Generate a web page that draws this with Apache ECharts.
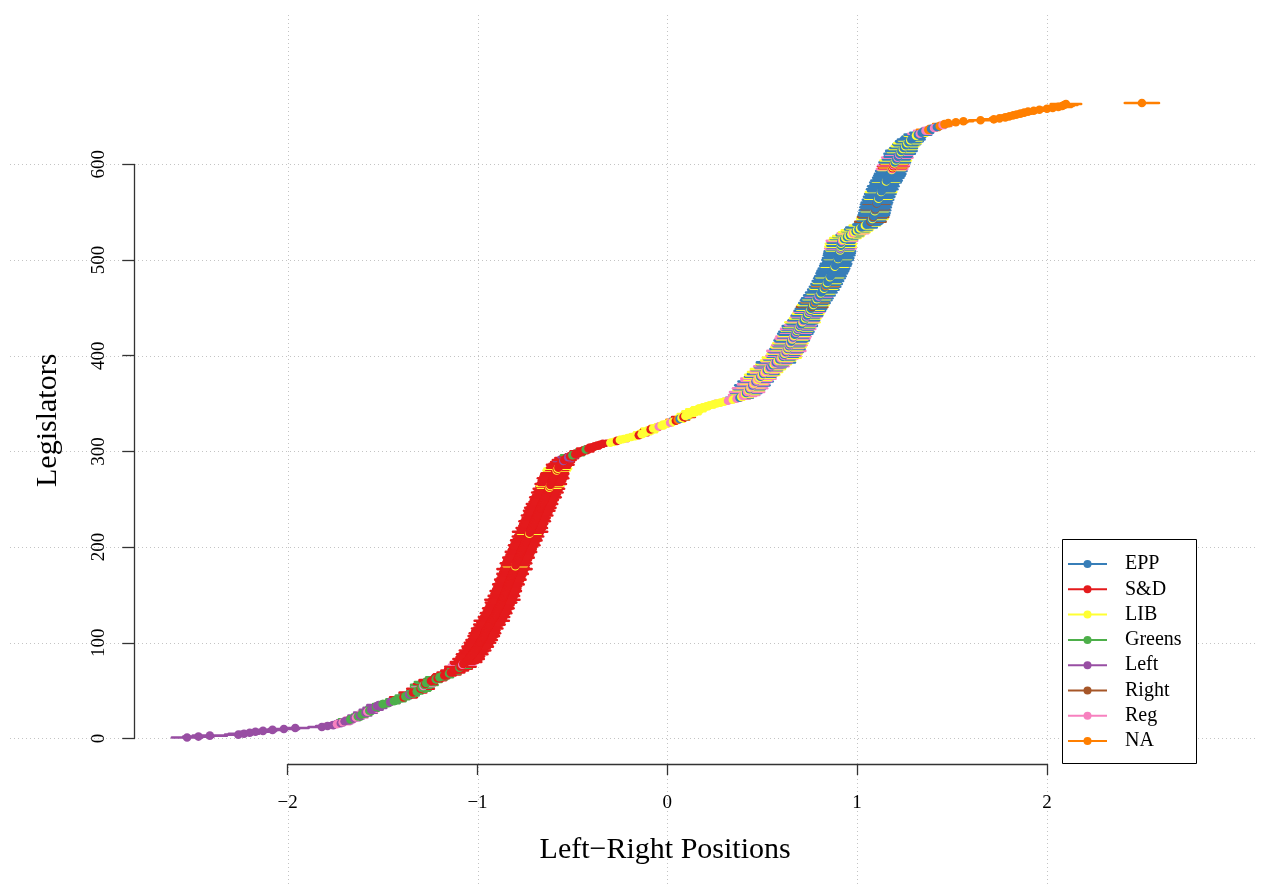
<!DOCTYPE html>
<html>
<head>
<meta charset="utf-8">
<title>Legislators by left-right position</title>
<script src="https://cdn.jsdelivr.net/npm/echarts@6/dist/echarts.min.js"></script>
<style>
  html, body { margin: 0; padding: 0; background: #fff; }
  #main { width: 1261px; height: 885px; }
</style>
</head>
<body>
<div id="main"></div>
<script>
// party groups, legend order
var partyNames = ['EPP', 'S&D', 'LIB', 'Greens', 'Left', 'Right', 'Reg', 'NA'];
var partyColors = ['#377EB8', '#E41A1C', '#FFFF33', '#4DAF4A', '#984EA3', '#A65628', '#F781BF', '#FF7F00'];
var partyKey = 'ESLGFRPN';

// one letter per legislator, in rank order (rows of ten)
var partyByRank = [
  'FFFFFFFFFF', 'FFFFPFPFFG', 'FPGFGGFPGF', 'FFGFFGGFGG', 'GGSGGFGSGG',
  'GSGGPGSGGS', 'SGSGGSSGSS', 'SSSGSSPSSS', 'SSSSSSSSSS', 'SSSSSSSSSS',
  'SSSSSSSS',   'SSSSSSSSSS', 'SSSSSSSSSS', 'SSSSSSSSSS', 'SSSSSSSSSS',
  'SSSSSSSSSS', 'SSSSSSSSSS', 'SSSSSSSSSS', 'SLSSSSSSSS', 'SSSSSSSSSS',
  'SSSSSSSSSS', 'SSSSSLSSSS', 'SSSSSSSSSS', 'SSSSSSSSSS', 'SSSSSSSSSS',
  'SSSSSSSSSS', 'SSSLSLSSSS', 'SSSSSSSSSS', 'SLSLSSSSSS', 'SFSSSFSGSS',
  'SSSGSSSSSS', 'LLSLLLLLSL', 'LLLLSLLPLL', 'LPLSNELSLL', 'LLLLLLLLLL',
  'LLLLPLPELP', 'PLEPPLEPLP', 'EPLPEPLPLE', 'PLEPLPELPE', 'PELPEPLEPL',
  'EPELPEPLEP', 'LEPELPEELP', 'EPLEEPELEP', 'ELEPEELPEE', 'LEPEELEPEL',
  'EERELEENEE', 'LEEPEELEEE', 'ELEENEELEE', 'EEELEEEEEE', 'EEEELEEEEE',
  'EELEEEEEEE', 'ELEPELEELE', 'EPLELELELP', 'LELELEELEE', 'EREELEREEE',
  'EELEREEEEE', 'REEEELEEEE', 'EELEEEEEEE', 'EEELEEEEEE', 'EEEEELPSLS',
  'PSLEELEEPE', 'EPEELEELEE', 'LEELEELEEE', 'ELEPEEPNEP', 'ENPNNNNNNN',
  'NNNNNNNNNN', 'NNNNNN'
].join('');

// estimated ideal points, sorted (rank 1 .. 664)
var idealPoints = [
  -2.53,-2.47,-2.41,-2.26,-2.23,-2.2,-2.17,-2.13,-2.08,-2.02,
  -1.96,-1.82,-1.79,-1.76,-1.74,-1.72,-1.71,-1.7,-1.68,-1.67,
  -1.65,-1.64,-1.63,-1.62,-1.61,-1.6,-1.59,-1.58,-1.57,-1.56,
  -1.55,-1.54,-1.535,-1.53,-1.52,-1.5,-1.47,-1.46,-1.44,-1.43,
  -1.42,-1.4,-1.39,-1.38,-1.37,-1.36,-1.35,-1.34,-1.32,-1.31,
  -1.305,-1.3,-1.295,-1.29,-1.285,-1.28,-1.275,-1.27,-1.26,-1.245,
  -1.235,-1.22,-1.21,-1.2,-1.19,-1.175,-1.16,-1.15,-1.14,-1.13,
  -1.12,-1.11,-1.1,-1.095,-1.09,-1.085,-1.08,-1.075,-1.07,-1.06,
  -1.055,-1.05,-1.047,-1.044,-1.04,-1.036,-1.032,-1.028,-1.024,-1.02,
  -1.017,-1.013,-1.009,-1.006,-1.002,-0.999,-0.996,-0.993,-0.99,-0.987,
  -0.985,-0.982,-0.978,-0.975,-0.972,-0.969,-0.967,-0.965,
  -0.963,-0.961,-0.96,-0.958,-0.955,-0.952,-0.949,-0.946,-0.943,-0.94,
  -0.937,-0.934,-0.931,-0.928,-0.925,-0.922,-0.919,-0.916,-0.913,-0.91,
  -0.907,-0.905,-0.902,-0.9,-0.897,-0.895,-0.892,-0.89,-0.887,-0.885,
  -0.882,-0.88,-0.878,-0.876,-0.873,-0.871,-0.869,-0.867,-0.865,-0.863,
  -0.861,-0.859,-0.857,-0.855,-0.853,-0.851,-0.849,-0.847,-0.845,-0.843,
  -0.841,-0.839,-0.837,-0.835,-0.833,-0.831,-0.829,-0.827,-0.825,-0.823,
  -0.821,-0.819,-0.817,-0.815,-0.813,-0.811,-0.809,-0.807,-0.805,-0.803,
  -0.802,-0.801,-0.8,-0.799,-0.797,-0.795,-0.793,-0.79,-0.788,-0.786,
  -0.784,-0.781,-0.779,-0.777,-0.775,-0.773,-0.771,-0.769,-0.766,-0.763,
  -0.761,-0.759,-0.757,-0.754,-0.752,-0.75,-0.747,-0.745,-0.743,-0.741,
  -0.738,-0.736,-0.734,-0.732,-0.729,-0.727,-0.725,-0.723,-0.72,-0.718,
  -0.716,-0.714,-0.712,-0.71,-0.707,-0.705,-0.703,-0.701,-0.699,-0.697,
  -0.694,-0.692,-0.69,-0.688,-0.686,-0.684,-0.682,-0.68,-0.677,-0.675,
  -0.673,-0.671,-0.669,-0.667,-0.665,-0.663,-0.66,-0.658,-0.656,-0.652,
  -0.649,-0.647,-0.644,-0.642,-0.64,-0.638,-0.636,-0.634,-0.632,-0.63,
  -0.628,-0.626,-0.624,-0.622,-0.62,-0.618,-0.616,-0.614,-0.612,-0.61,
  -0.608,-0.606,-0.604,-0.602,-0.6,-0.598,-0.596,-0.594,-0.592,-0.589,
  -0.586,-0.583,-0.58,-0.577,-0.574,-0.571,-0.568,-0.564,-0.56,-0.556,
  -0.552,-0.548,-0.543,-0.537,-0.53,-0.522,-0.512,-0.5,-0.485,-0.47,
  -0.46,-0.45,-0.44,-0.43,-0.415,-0.4,-0.385,-0.37,-0.355,-0.34,
  -0.3,-0.28,-0.265,-0.25,-0.23,-0.21,-0.19,-0.17,-0.15,-0.135,
  -0.125,-0.115,-0.105,-0.095,-0.088,-0.075,-0.06,-0.045,-0.03,-0.015,
  0.0,0.015,0.03,0.045,0.055,0.065,0.075,0.085,0.095,0.105,
  0.115,0.125,0.132,0.14,0.15,0.16,0.175,0.19,0.205,0.22,
  0.24,0.26,0.28,0.3,0.32,0.345,0.365,0.38,0.39,0.398,
  0.405,0.41,0.415,0.42,0.424,0.428,0.432,0.436,0.44,0.444,
  0.448,0.452,0.456,0.46,0.465,0.47,0.475,0.48,0.485,0.49,
  0.495,0.5,0.505,0.51,0.515,0.52,0.525,0.53,0.536,0.542,
  0.548,0.554,0.56,0.566,0.572,0.578,0.584,0.59,0.596,0.603,
  0.608,0.612,0.615,0.618,0.621,0.624,0.627,0.63,0.633,0.635,
  0.638,0.64,0.643,0.645,0.648,0.65,0.653,0.655,0.658,0.66,
  0.663,0.665,0.668,0.671,0.674,0.677,0.68,0.683,0.686,0.689,
  0.692,0.695,0.698,0.702,0.705,0.709,0.712,0.716,0.719,0.723,
  0.726,0.73,0.733,0.736,0.739,0.742,0.745,0.748,0.751,0.754,
  0.757,0.76,0.763,0.766,0.769,0.772,0.775,0.778,0.781,0.784,
  0.787,0.79,0.794,0.797,0.801,0.804,0.808,0.811,0.815,0.818,
  0.822,0.825,0.828,0.831,0.834,0.836,0.839,0.841,0.844,0.846,
  0.849,0.851,0.854,0.856,0.859,0.861,0.864,0.866,0.868,0.871,
  0.873,0.875,0.878,0.88,0.882,0.885,0.887,0.889,0.891,0.893,
  0.895,0.897,0.899,0.9,0.902,0.903,0.905,0.906,0.907,0.908,
  0.909,0.91,0.911,0.912,0.913,0.913,0.914,0.914,0.915,0.915,
  0.917,0.92,0.925,0.931,0.938,0.946,0.954,0.962,0.97,0.978,
  0.985,0.992,0.999,1.007,1.015,1.023,1.032,1.041,1.05,1.058,
  1.064,1.07,1.074,1.078,1.08,1.082,1.084,1.086,1.088,1.09,
  1.091,1.092,1.093,1.094,1.095,1.096,1.097,1.098,1.099,1.1,
  1.102,1.104,1.106,1.108,1.11,1.112,1.114,1.116,1.118,1.12,
  1.122,1.124,1.126,1.128,1.13,1.132,1.134,1.136,1.138,1.14,
  1.143,1.146,1.149,1.152,1.155,1.158,1.161,1.164,1.167,1.17,
  1.172,1.174,1.176,1.178,1.18,1.182,1.184,1.186,1.188,1.19,
  1.192,1.194,1.196,1.198,1.2,1.203,1.206,1.209,1.212,1.215,
  1.218,1.221,1.224,1.227,1.23,1.233,1.237,1.241,1.245,1.249,
  1.253,1.257,1.261,1.265,1.27,1.275,1.28,1.285,1.29,1.295,
  1.3,1.31,1.32,1.33,1.34,1.35,1.36,1.375,1.39,1.405,
  1.42,1.435,1.45,1.46,1.48,1.52,1.56,1.65,1.72,1.75,
  1.78,1.8,1.82,1.84,1.86,1.88,1.9,1.93,1.96,2.0,
  2.03,2.06,2.08,2.09,2.1,2.5
];

// half length of each legislator's interval
var halfWidths = [
  0.08,0.08,0.09,0.07,0.08,0.07,0.08,0.07,0.07,0.08,
  0.07,0.07,0.06,0.06,0.07,0.06,0.06,0.05,0.06,0.06,
  0.05,0.06,0.05,0.06,0.05,0.05,0.06,0.05,0.05,0.06,
  0.05,0.06,0.05,0.05,0.06,0.05,0.06,0.05,0.06,0.05,
  0.06,0.05,0.07,0.05,0.06,0.05,0.06,0.07,0.05,0.06,
  0.06,0.07,0.05,0.06,0.06,0.07,0.06,0.05,0.07,0.06,
  0.07,0.06,0.06,0.07,0.05,0.06,0.07,0.06,0.07,0.06,
  0.07,0.06,0.07,0.06,0.08,0.06,0.07,0.06,0.07,0.08,
  0.06,0.07,0.08,0.06,0.07,0.07,0.06,0.08,0.07,0.06,
  0.07,0.08,0.06,0.07,0.06,0.08,0.07,0.07,0.06,0.08,
  0.07,0.06,0.08,0.07,0.06,0.07,0.08,0.06,
  0.07,0.08,0.06,0.07,0.07,0.06,0.08,0.07,0.06,0.07,
  0.08,0.06,0.07,0.07,0.09,0.06,0.07,0.06,0.08,0.07,
  0.06,0.07,0.08,0.06,0.07,0.06,0.07,0.08,0.07,0.06,
  0.07,0.07,0.06,0.08,0.06,0.07,0.09,0.07,0.06,0.07,
  0.08,0.06,0.07,0.06,0.07,0.08,0.06,0.07,0.07,0.06,
  0.07,0.06,0.08,0.07,0.06,0.07,0.06,0.08,0.07,0.07,
  0.06,0.07,0.07,0.08,0.06,0.07,0.06,0.07,0.09,0.07,
  0.07,0.06,0.07,0.06,0.08,0.07,0.06,0.07,0.07,0.06,
  0.08,0.07,0.06,0.07,0.06,0.07,0.08,0.06,0.07,0.07,
  0.06,0.07,0.07,0.08,0.06,0.07,0.06,0.07,0.08,0.06,
  0.07,0.06,0.08,0.07,0.07,0.06,0.07,0.09,0.06,0.07,
  0.07,0.08,0.06,0.07,0.06,0.07,0.07,0.06,0.08,0.07,
  0.06,0.07,0.07,0.06,0.08,0.07,0.06,0.07,0.06,0.08,
  0.07,0.06,0.08,0.07,0.06,0.07,0.08,0.06,0.07,0.06,
  0.07,0.07,0.06,0.08,0.07,0.06,0.07,0.06,0.08,0.07,
  0.06,0.07,0.08,0.06,0.07,0.07,0.06,0.08,0.07,0.06,
  0.07,0.06,0.07,0.08,0.06,0.07,0.06,0.07,0.07,0.06,
  0.06,0.07,0.06,0.07,0.06,0.05,0.06,0.07,0.06,0.05,
  0.06,0.05,0.06,0.05,0.06,0.05,0.05,0.06,0.05,0.05,
  0.05,0.06,0.05,0.05,0.06,0.05,0.05,0.05,0.06,0.05,
  0.05,0.05,0.06,0.05,0.05,0.05,0.06,0.05,0.05,0.05,
  0.05,0.06,0.05,0.05,0.05,0.06,0.05,0.05,0.06,0.05,
  0.05,0.05,0.06,0.05,0.06,0.05,0.05,0.06,0.05,0.05,
  0.06,0.05,0.05,0.06,0.05,0.06,0.05,0.06,0.05,0.06,
  0.06,0.05,0.06,0.06,0.07,0.06,0.07,0.07,0.06,0.07,
  0.08,0.07,0.08,0.09,0.07,0.08,0.08,0.09,0.07,0.08,
  0.09,0.08,0.07,0.08,0.09,0.08,0.07,0.09,0.08,0.08,
  0.08,0.09,0.08,0.07,0.09,0.08,0.08,0.09,0.07,0.08,
  0.09,0.08,0.09,0.08,0.1,0.08,0.09,0.08,0.09,0.1,
  0.08,0.09,0.08,0.09,0.08,0.09,0.1,0.08,0.09,0.08,
  0.09,0.08,0.09,0.08,0.09,0.08,0.08,0.09,0.08,0.09,
  0.08,0.09,0.08,0.08,0.09,0.08,0.09,0.08,0.08,0.09,
  0.08,0.08,0.09,0.08,0.07,0.08,0.09,0.08,0.08,0.07,
  0.08,0.07,0.08,0.08,0.07,0.08,0.07,0.08,0.08,0.07,
  0.08,0.07,0.08,0.07,0.08,0.07,0.08,0.07,0.07,0.08,
  0.07,0.08,0.07,0.07,0.08,0.07,0.07,0.08,0.07,0.07,
  0.08,0.07,0.07,0.08,0.07,0.07,0.08,0.07,0.07,0.08,
  0.07,0.07,0.08,0.07,0.08,0.07,0.07,0.08,0.07,0.08,
  0.08,0.07,0.08,0.07,0.07,0.08,0.07,0.08,0.07,0.07,
  0.07,0.08,0.07,0.08,0.07,0.07,0.08,0.07,0.08,0.07,
  0.08,0.07,0.07,0.08,0.07,0.08,0.07,0.07,0.08,0.07,
  0.07,0.08,0.07,0.07,0.08,0.07,0.08,0.07,0.07,0.08,
  0.08,0.07,0.08,0.07,0.07,0.08,0.07,0.08,0.07,0.07,
  0.07,0.08,0.07,0.07,0.08,0.07,0.08,0.07,0.08,0.07,
  0.08,0.07,0.07,0.08,0.07,0.07,0.08,0.07,0.07,0.08,
  0.07,0.08,0.07,0.07,0.08,0.07,0.07,0.08,0.07,0.07,
  0.08,0.07,0.08,0.07,0.07,0.08,0.07,0.07,0.08,0.07,
  0.07,0.07,0.08,0.07,0.08,0.07,0.07,0.08,0.07,0.08,
  0.07,0.08,0.07,0.07,0.08,0.07,0.08,0.07,0.07,0.08,
  0.08,0.07,0.07,0.08,0.07,0.08,0.07,0.07,0.08,0.07,
  0.07,0.07,0.08,0.07,0.07,0.08,0.07,0.07,0.07,0.06,
  0.07,0.06,0.07,0.07,0.06,0.07,0.06,0.07,0.06,0.06,
  0.06,0.06,0.07,0.06,0.06,0.05,0.06,0.06,0.05,0.06,
  0.05,0.06,0.05,0.06,0.05,0.06,0.05,0.06,0.06,0.05,
  0.06,0.05,0.06,0.05,0.06,0.06,0.05,0.06,0.06,0.07,
  0.06,0.07,0.06,0.07,0.08,0.09
];

var xTicks = [-2, -1, 0, 1, 2];
var yTicks = [0, 100, 200, 300, 400, 500, 600];

var serif = "'Liberation Serif', 'DejaVu Serif', serif";

var legislators = idealPoints.map(function (x, i) {
  var p = partyKey.indexOf(partyByRank.charAt(i));
  return [x, i + 1, x - halfWidths[i], x + halfWidths[i], p < 0 ? 0 : p];
});

var chartDom = document.getElementById('main');
var myChart = echarts.init(chartDom, null, { renderer: 'canvas' });

function minusSign(v) {
  return String(v).replace('-', '\u2212');
}

var legendSeries = partyNames.map(function (name, i) {
  return {
    name: name,
    type: 'line',
    xAxisIndex: 0,
    yAxisIndex: 0,
    data: [],
    symbol: 'circle',
    symbolSize: 8,
    itemStyle: { color: partyColors[i] },
    lineStyle: { color: partyColors[i], width: 2.5 }
  };
});

// intervals first, then the points on top (both in rank order)
function renderInterval(params, api) {
  var rank = api.value(1);
  var lo = api.coord([api.value(2), rank]);
  var hi = api.coord([api.value(3), rank]);
  return {
    type: 'line',
    shape: { x1: lo[0], y1: lo[1], x2: hi[0], y2: hi[1] },
    style: { stroke: partyColors[api.value(4)], lineWidth: 2.6, lineCap: 'round' }
  };
}

function renderPoint(params, api) {
  var mid = api.coord([api.value(0), api.value(1)]);
  return {
    type: 'circle',
    shape: { cx: mid[0], cy: mid[1], r: 4.3 },
    style: { fill: partyColors[api.value(4)] }
  };
}

var option = {
  animation: false,
  backgroundColor: '#fff',
  textStyle: { fontFamily: serif },
  grid: [
    { left: 134.3, right: 65, top: 77.7, bottom: 122.1, outerBoundsMode: 'none' },
    { left: 287.7, right: 214.1, top: 77.7, bottom: 121, outerBoundsMode: 'none' },
    { left: 134.3, right: 65, top: 164.3, bottom: 146.5, outerBoundsMode: 'none' }
  ],
  xAxis: [
    {
      gridIndex: 0, type: 'value', min: -2.808, max: 2.785,
      axisLine: { show: false }, axisTick: { show: false },
      axisLabel: { show: false }, splitLine: { show: false },
      name: 'Left\u2212Right Positions', nameLocation: 'middle', nameGap: 72,
      nameTextStyle: { fontFamily: serif, fontSize: 30, color: '#000' }
    },
    {
      gridIndex: 1, type: 'value', min: -2, max: 2, interval: 1, z: 1,
      axisLine: { lineStyle: { color: '#333', width: 1.3 } },
      axisTick: { length: 11, lineStyle: { color: '#333', width: 1.3 } },
      axisLabel: { fontFamily: serif, fontSize: 19, color: '#000', margin: 30, formatter: minusSign },
      splitLine: { show: false }
    },
    { gridIndex: 2, type: 'value', show: false }
  ],
  yAxis: [
    {
      gridIndex: 0, type: 'value', min: -25.5, max: 690.5,
      axisLine: { show: false }, axisTick: { show: false },
      axisLabel: { show: false }, splitLine: { show: false },
      name: 'Legislators', nameLocation: 'middle', nameGap: 71, nameRotate: 90,
      nameTextStyle: { fontFamily: serif, fontSize: 30, color: '#000' }
    },
    { gridIndex: 1, type: 'value', show: false },
    {
      gridIndex: 2, type: 'value', min: 0, max: 600, interval: 100, z: 1,
      axisLine: { show: true, lineStyle: { color: '#333', width: 1.3 } },
      axisTick: { show: true, length: 12, lineStyle: { color: '#333', width: 1.3 } },
      axisLabel: { fontFamily: serif, fontSize: 19, color: '#000', margin: 26, rotate: 90 },
      splitLine: { show: false }
    }
  ],
  legend: {
    orient: 'vertical',
    left: 1067,
    top: 554,
    padding: 0,
    itemWidth: 39,
    itemHeight: 10,
    itemGap: 5.3,
    selectedMode: false,
    data: partyNames,
    textStyle: { fontFamily: serif, fontSize: 20, color: '#000', padding: [0, 0, 0, 13] }
  },
  series: legendSeries.concat([
    {
      name: 'intervals',
      type: 'custom',
      xAxisIndex: 0,
      yAxisIndex: 0,
      z: 2,
      silent: true,
      encode: { x: 0, y: 1 },
      data: legislators,
      renderItem: renderInterval
    },
    {
      name: 'points',
      type: 'custom',
      xAxisIndex: 0,
      yAxisIndex: 0,
      z: 3,
      silent: true,
      encode: { x: 0, y: 1 },
      data: legislators,
      renderItem: renderPoint
    }
  ])
};

myChart.setOption(option);

// dotted reference grid across the whole figure, placed on the data scales
var gridStyle = { stroke: '#c4c4c4', lineWidth: 1, lineDash: [1, 3] };
var extras = [];
xTicks.forEach(function (v) {
  var px = Math.round(myChart.convertToPixel({ xAxisIndex: 0 }, v)) + 0.5;
  extras.push({ type: 'line', z: 0, silent: true, shape: { x1: px, y1: 15, x2: px, y2: 885 }, style: gridStyle });
});
yTicks.forEach(function (v) {
  var py = Math.round(myChart.convertToPixel({ yAxisIndex: 0 }, v)) + 0.5;
  extras.push({ type: 'line', z: 0, silent: true, shape: { x1: 10, y1: py, x2: 1258, y2: py }, style: gridStyle });
});
// legend frame
extras.push({
  type: 'rect', z: 3, silent: true,
  shape: { x: 1062.5, y: 539.5, width: 134, height: 224 },
  style: { fill: '#fff', stroke: '#000', lineWidth: 1 }
});

myChart.setOption({ graphic: { elements: extras } });
</script>
</body>
</html>
